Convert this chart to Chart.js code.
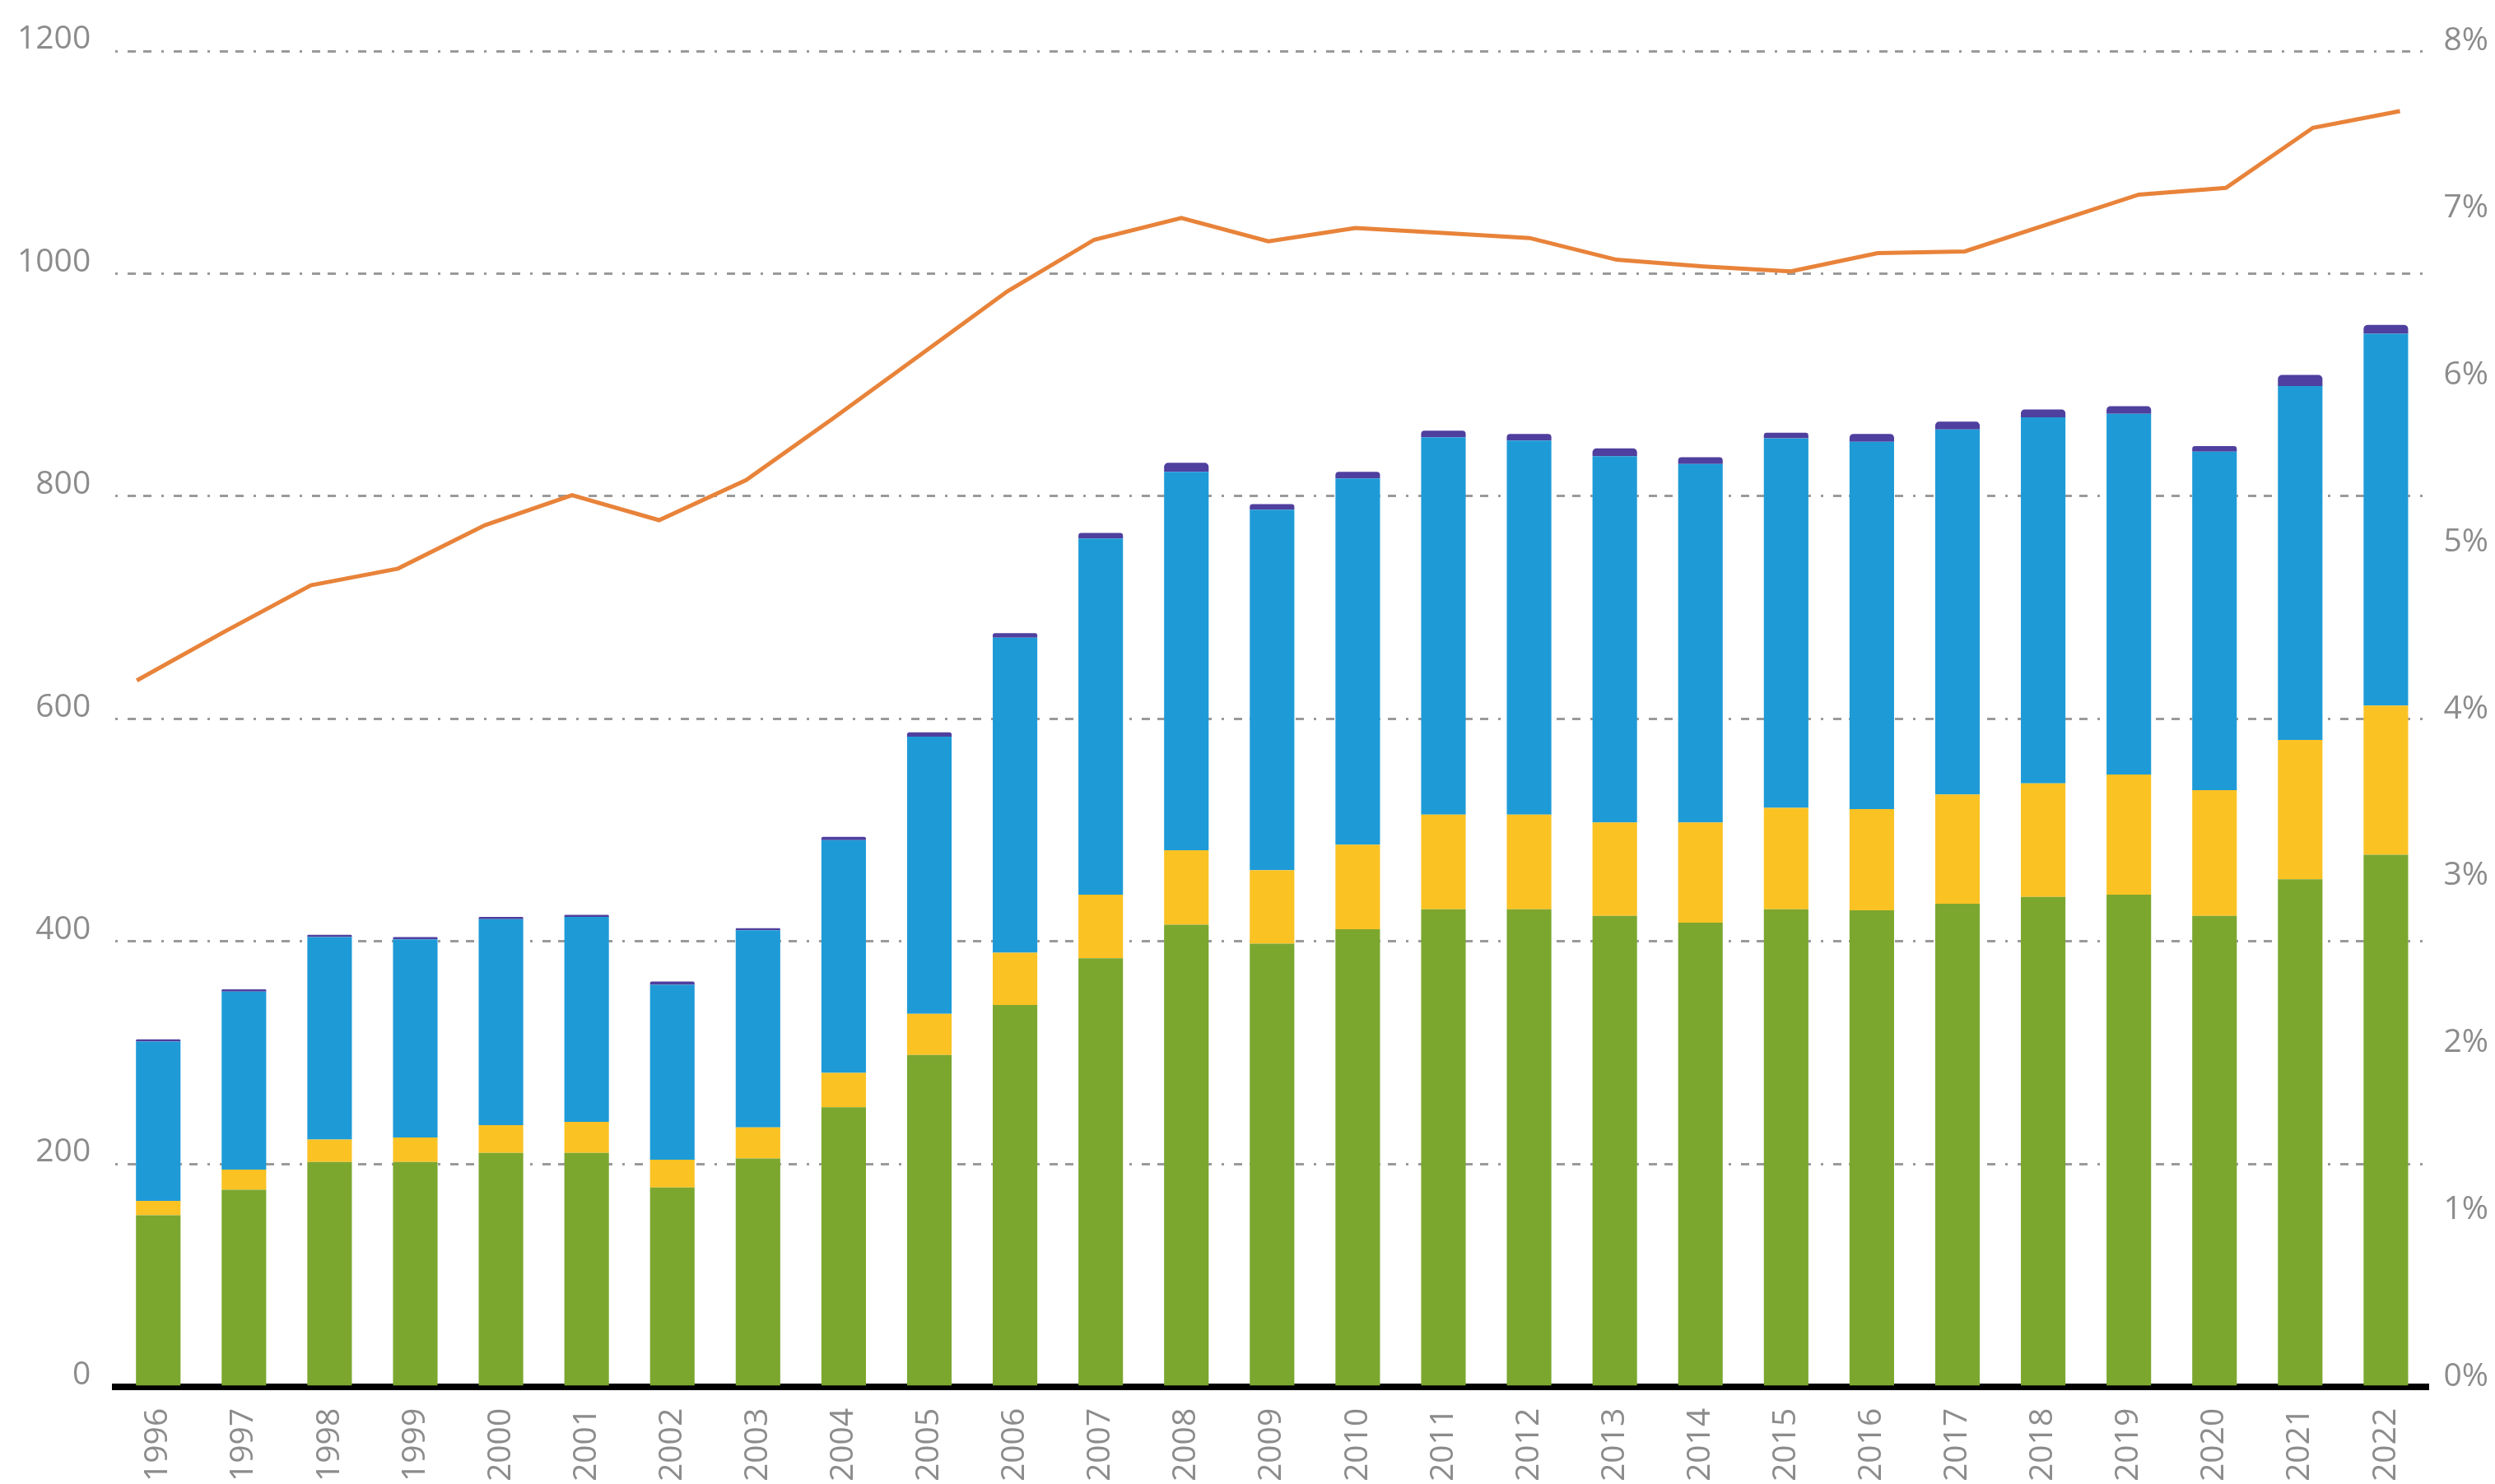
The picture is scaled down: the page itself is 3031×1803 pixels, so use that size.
<!DOCTYPE html>
<html>
<head>
<meta charset="utf-8">
<script src="https://cdn.jsdelivr.net/npm/chart.js@4"></script>
<style>
  html, body { margin: 0; padding: 0; background: #ffffff; }
  #wrap { width: 3031px; height: 1803px; position: relative; }
</style>
</head>
<body>
<div id="wrap"><canvas id="c" width="3031" height="1803"></canvas></div>
<script>
const years = ['1996','1997','1998','1999','2000','2001','2002','2003','2004','2005','2006','2007','2008','2009','2010','2011','2012','2013','2014','2015','2016','2017','2018','2019','2020','2021','2022'];
const greenVals  = [154,177,202,202,210,210,179,205,251,298,343,385,415,398,411,429,429,423,417,429,428,434,440,442,423,456,478];
const yellowVals = [13,18,20,22,25,28,25,28,31,37,47,57,67,66,76,85,85,84,90,91,91,98,102,108,113,125,134];
const blueVals   = [143,160,182,178,185,184,157,177,209,249,283,320,340,324,329,339,336,329,322,332,330,328,329,324,304,318,334];
const purpleVals = [2,2,2,2,2,2,3,2,3,4,4,5,8,5,6,6,6,7,6,5,7,7,7,7,5,10,8];
const shareVals  = [4.23,4.52,4.80,4.90,5.16,5.34,5.19,5.43,5.80,6.18,6.56,6.87,7.00,6.86,6.94,6.91,6.88,6.75,6.71,6.68,6.79,6.80,6.97,7.14,7.18,7.54,7.64];
const leftTicks  = [0,200,400,600,800,1000,1200];
const rightTicks = [0,1,2,3,4,5,6,7,8];

const font = { family: "'Open Sans', 'Noto Sans', sans-serif", size: 39 };
const tickColor = '#8c8c8c';

const barCommon = { type: 'bar', order: 2, xAxisID: 'x', yAxisID: 'y', stack: 'bars', grouped: false,
                    categoryPercentage: 1, barPercentage: 0.52 };

new Chart(document.getElementById('c'), {
  data: {
    labels: years,
    datasets: [
      Object.assign({}, barCommon, { data: greenVals,  backgroundColor: '#7BA72F' }),
      Object.assign({}, barCommon, { data: yellowVals, backgroundColor: '#FBC224' }),
      Object.assign({}, barCommon, { data: blueVals,   backgroundColor: '#1E9BD7' }),
      Object.assign({}, barCommon, { data: purpleVals, backgroundColor: '#4F3F9E',
        borderRadius: { topLeft: 5, topRight: 5, bottomLeft: 0, bottomRight: 0 }, borderSkipped: false }),
      { type: 'line', data: shareVals.map((v, i) => ({ x: i, y: v })), borderColor: '#E8833A', borderWidth: 5,
        pointRadius: 0, tension: 0, fill: false, order: 0, xAxisID: 'xl', yAxisID: 'y2' }
    ]
  },
  options: {
    responsive: false,
    animation: false,
    devicePixelRatio: 1,
    layout: { padding: { left: -9, right: -10, top: 62, bottom: -23 } },
    plugins: { legend: { display: false }, tooltip: { enabled: false } },
    scales: {
      x: {
        type: 'category', stacked: true, offset: true, z: 1,
        grid: { display: false, drawTicks: false },
        border: { display: true, color: '#000000', width: 8 },
        ticks: { font, color: tickColor, minRotation: 90, maxRotation: 90, padding: 26, autoSkip: false }
      },
      xl: {
        type: 'linear', display: false, min: -0.246, max: 26.33
      },
      y: {
        type: 'linear', position: 'left', stacked: true, min: 0, max: 1200,
        afterBuildTicks: (axis) => { axis.ticks = leftTicks.map(v => ({ value: v })); },
        grid: { color: '#9a9a9a', lineWidth: 3, drawTicks: false },
        border: { display: false, dash: [3, 12, 10, 9, 10, 12] },
        ticks: { font, color: tickColor, padding: 30, labelOffset: -14, callback: (v) => String(v) }
      },
      y2: {
        type: 'linear', position: 'right', min: 0, max: 8,
        afterBuildTicks: (axis) => { axis.ticks = rightTicks.map(v => ({ value: v })); },
        grid: { display: false, drawTicks: false },
        border: { display: false },
        ticks: { font, color: tickColor, padding: 18, labelOffset: -12, callback: (v) => v + '%' }
      }
    }
  }
});
</script>
</body>
</html>
